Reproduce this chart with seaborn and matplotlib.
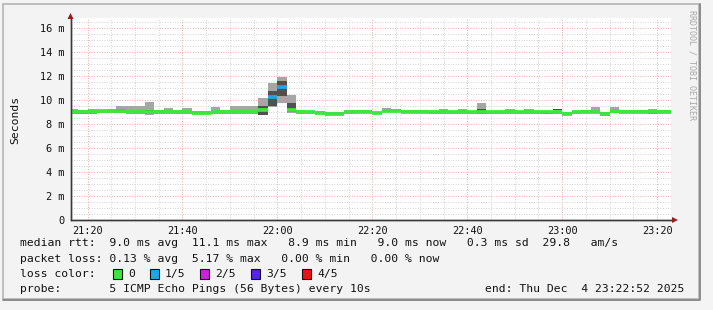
import numpy as np
import matplotlib
matplotlib.use("Agg")
import matplotlib.pyplot as plt
from matplotlib.patches import Rectangle, Polygon
from matplotlib.lines import Line2D
import seaborn as sns

# ---- data (minutes after 21:00, 2-minute bins) ----
bin_start = list(range(16, 144, 2))
median = [8.95, 8.95, 8.95, 9.05, 9.05, 9.10, 9.00, 8.98, 8.95, 8.95,
          9.00, 9.00, 9.00, 8.90, 8.90, 8.95, 8.95, 8.98, 8.98, 8.98,
          9.18, 10.20, 11.10, 9.18, 9.00, 8.95, 8.93, 8.85, 8.85, 8.95,
          9.00, 9.00, 8.88, 9.10, 9.10, 9.00, 9.00, 9.00, 8.95, 9.00,
          8.95, 9.00, 8.95, 9.00, 8.95, 8.95, 9.00, 8.95, 9.00, 8.95,
          8.95, 9.00, 8.85, 8.95, 9.00, 9.00, 8.85, 9.05, 9.00, 9.00,
          9.00, 8.95, 9.00, 9.00]
smoke_hi = [9.20, 9.15, 9.20, 9.15, 9.20, 9.50, 9.45, 9.45, 9.85, 9.15,
            9.35, 9.15, 9.30, 9.10, 9.05, 9.37, 9.18, 9.48, 9.48, 9.50,
            10.17, 11.42, 11.90, 10.36, 9.15, 9.10, 9.10, 9.00, 9.00, 9.12,
            9.15, 9.15, 9.02, 9.30, 9.25, 9.15, 9.15, 9.15, 9.10, 9.20,
            9.10, 9.20, 9.10, 9.76, 9.10, 9.10, 9.20, 9.10, 9.20, 9.10,
            9.10, 9.22, 9.00, 9.10, 9.15, 9.40, 9.00, 9.40, 9.15, 9.15,
            9.15, 9.26, 9.15, 9.15]
smoke_lo = [8.80, 8.80, 8.80, 8.90, 8.90, 8.90, 8.85, 8.85, 8.70, 8.80,
            8.85, 8.85, 8.85, 8.80, 8.80, 8.85, 8.85, 8.85, 8.85, 8.85,
            8.70, 9.40, 9.70, 8.90, 8.85, 8.85, 8.80, 8.75, 8.75, 8.85,
            8.90, 8.90, 8.78, 8.95, 8.95, 8.90, 8.90, 8.90, 8.85, 8.85,
            8.85, 8.85, 8.85, 8.78, 8.85, 8.85, 8.85, 8.85, 8.85, 8.85,
            8.83, 8.85, 8.72, 8.85, 8.90, 8.90, 8.68, 8.90, 8.90, 8.90,
            8.90, 8.83, 8.90, 8.90]
inner_hi = [9.00, 8.95, 8.93, 9.10, 9.10, 9.22, 9.10, 9.05, 9.15, 9.00,
            9.10, 8.95, 9.05, 8.90, 8.90, 9.05, 9.02, 9.05, 8.98, 8.95,
            9.50, 10.75, 11.55, 9.70, 9.05, 9.00, 8.90, 8.88, 8.88, 9.10,
            9.05, 9.05, 8.92, 9.15, 9.15, 9.05, 9.05, 9.05, 8.95, 9.05,
            9.00, 9.05, 9.00, 9.20, 9.00, 9.00, 9.05, 9.00, 9.05, 9.00,
            8.90, 9.22, 8.80, 9.05, 9.05, 9.10, 8.78, 9.10, 9.05, 9.05,
            9.05, 8.90, 9.05, 9.05]
inner_lo = [8.85, 8.85, 8.85, 8.95, 8.95, 9.05, 8.90, 8.92, 9.02, 8.88,
            8.92, 8.88, 8.92, 8.84, 8.84, 8.90, 8.90, 8.92, 8.88, 8.86,
            8.72, 9.50, 10.30, 8.95, 8.95, 8.90, 8.84, 8.78, 8.78, 9.03,
            8.95, 8.95, 8.82, 9.02, 9.02, 8.95, 8.95, 8.95, 8.88, 8.92,
            8.90, 8.92, 8.90, 8.78, 8.90, 8.90, 8.92, 8.90, 8.92, 8.90,
            8.84, 9.13, 8.74, 8.95, 8.95, 8.95, 8.70, 8.98, 8.95, 8.95,
            8.94, 8.84, 8.95, 8.95]
loss = [0] * 21 + [1, 1] + [0] * 41

loss_labels = ["0", "1/5", "2/5", "3/5", "4/5"]
loss_colors = ["#3ce63c", "#1aa8e8", "#cc22dd", "#5522ee", "#ee1111"]

xtick_pos = [20, 40, 60, 80, 100, 120, 140]
xtick_labels = ["21:20", "21:40", "22:00", "22:20", "22:40", "23:00", "23:20"]
ytick_pos = [0, 2, 4, 6, 8, 10, 12, 14, 16]
ytick_labels = ["0", "2 m", "4 m", "6 m", "8 m", "10 m", "12 m", "14 m", "16 m"]

legend_lines = [
    "median rtt:  9.0 ms avg  11.1 ms max   8.9 ms min   9.0 ms now   0.3 ms sd  29.8   am/s",
    "packet loss: 0.13 % avg  5.17 % max   0.00 % min   0.00 % now",
    "loss color:",
    "probe:       5 ICMP Echo Pings (56 Bytes) every 10s",
]
end_text = "end: Thu Dec  4 23:22:52 2025"
ylabel = "Seconds"
watermark = "RRDTOOL / TOBI OETIKER"

# ---- figure ----
sns.set_theme(style="white")
plt.rcParams["font.family"] = ["DejaVu Sans Mono", "DejaVu Sans"]
W, H = 713, 310
fig = plt.figure(figsize=(W / 100, H / 100), dpi=100, facecolor="#f4f4f4")


def fx(x):
    return x / W


def fy(y):
    return 1 - y / H


# canvas frame (behind everything)
fig.patches.append(Rectangle((fx(3), fy(299)), fx(699) - fx(3), fy(4) - fy(299),
                             transform=fig.transFigure, facecolor="#f3f3f3",
                             edgecolor="#b4b4b4", lw=1.2, zorder=-5))
fig.lines.append(Line2D([fx(3), fx(699.5), fx(699.5)], [fy(299.5), fy(299.5), fy(4)],
                        transform=fig.transFigure, color="#8c8c8c", lw=1.4, zorder=-4))

x0, x1 = 16.4, 142.85
ax = fig.add_axes([fx(70.5), fy(220), fx(670.6) - fx(70.5), fy(18) - fy(220)])
ax.set_zorder(1)
ax.set_facecolor("white")
ax.set_xlim(x0, x1)
ax.set_ylim(0, 16.8)

# grid
ax.set_xticks(np.arange(20, 143, 5), minor=True)
ax.set_yticks(np.arange(0, 16.8, 0.5), minor=True)
ax.set_xticks(xtick_pos)
ax.set_xticklabels(xtick_labels)
ax.set_yticks(ytick_pos)
ax.set_yticklabels(ytick_labels)
ax.grid(which="minor", color="#d2d2d2", lw=0.7, linestyle=(0, (1, 1.6)))
ax.grid(which="major", color="#eeaaaa", lw=0.7, linestyle=(0, (1, 1.6)))
ax.set_axisbelow(True)

# smoke
bs = np.array(bin_start, dtype=float)
ax.bar(bs, np.array(smoke_hi) - np.array(smoke_lo), bottom=smoke_lo, width=2.0,
       align="edge", color="#a6a6a6", edgecolor="none", linewidth=0, zorder=2)
ax.bar(bs, np.array(inner_hi) - np.array(inner_lo), bottom=inner_lo, width=2.0,
       align="edge", color="#505050", edgecolor="none", linewidth=0, zorder=3)

# median colored by loss
for lv, col in enumerate(loss_colors):
    idx = [i for i, l in enumerate(loss) if l == lv]
    if not idx:
        continue
    ax.hlines([median[i] for i in idx], [bs[i] for i in idx], [bs[i] + 2.0 for i in idx],
              colors=col, lw=2.7, zorder=4)

# spines & ticks
for s in ["top", "right"]:
    ax.spines[s].set_visible(False)
for s in ["left", "bottom"]:
    ax.spines[s].set_color("#3a3a3a")
    ax.spines[s].set_linewidth(1.0)
ax.tick_params(which="major", direction="out", length=2, width=0.8, color="#3a3a3a",
               labelsize=7.4, pad=2.5, labelcolor="#111111")
ax.tick_params(which="minor", length=0)
for lab in ax.get_xticklabels() + ax.get_yticklabels():
    lab.set_family("DejaVu Sans Mono")

# arrows
fig.lines.append(Line2D([fx(70.5), fx(70.5)], [fy(220), fy(17)], transform=fig.transFigure,
                        color="#3a3a3a", lw=1.0, zorder=3))
fig.lines.append(Line2D([fx(70.5), fx(674)], [fy(220), fy(220)], transform=fig.transFigure,
                        color="#3a3a3a", lw=1.0, zorder=3))
fig.patches.append(Polygon([(fx(70.5), fy(13)), (fx(67.5), fy(19)), (fx(73.5), fy(19))],
                           closed=True, transform=fig.transFigure, color="#9a1c1c", lw=0, zorder=3))
fig.patches.append(Polygon([(fx(678), fy(220)), (fx(672), fy(217)), (fx(672), fy(223))],
                           closed=True, transform=fig.transFigure, color="#9a1c1c", lw=0, zorder=3))

# y label
fig.text(fx(15), fy(120), ylabel, rotation=90, ha="center", va="center",
         fontsize=8.2, color="#111111")

# watermark
fig.text(fx(692), fy(10), watermark, rotation=-90, ha="center", va="top",
         fontsize=6.0, color="#a8a8a8")

# legend text
ys = [243, 259, 274, 289]
for t, yy in zip(legend_lines, ys):
    fig.text(fx(20), fy(yy), t, ha="left", va="center", fontsize=8.2, color="#111111")
fig.text(fx(684), fy(289), end_text, ha="right", va="center", fontsize=8.2, color="#111111")

box_x = [113, 150, 200, 251, 302]
for bx, lab, col in zip(box_x, loss_labels, loss_colors):
    fig.patches.append(Rectangle((fx(bx), fy(279)), fx(9), fy(269) - fy(279),
                                 transform=fig.transFigure, facecolor=col,
                                 edgecolor="#111111", lw=0.8, zorder=3))
    fig.text(fx(bx + 15), fy(274), lab, ha="left", va="center", fontsize=8.2, color="#111111")

fig.savefig("out.png", dpi=100, facecolor=fig.get_facecolor())
